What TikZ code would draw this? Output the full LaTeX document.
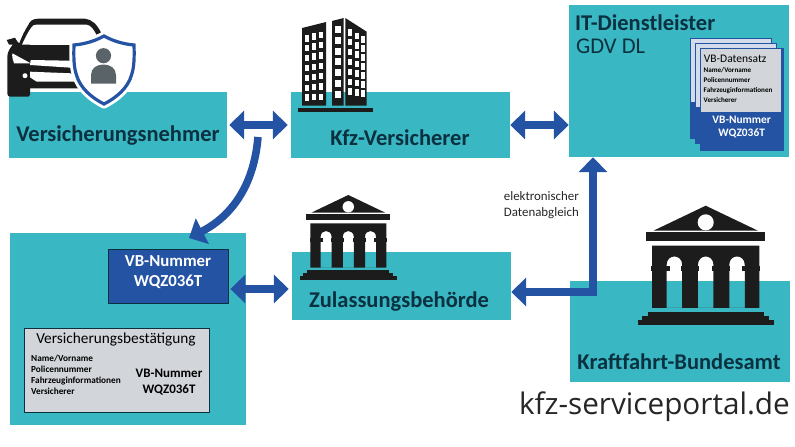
\documentclass[tikz,border=0pt]{standalone}
\usepackage{fontspec}
\setmainfont{Carlito}
\newfontfamily\urlfont{Open Sans}
\usetikzlibrary{arrows.meta, positioning}

\definecolor{tealfill}{HTML}{39B7C3}
\definecolor{linkblue}{HTML}{2553A4}
\definecolor{inkdark}{HTML}{0B3140}
\definecolor{sheetgrey}{HTML}{D2D5DA}
\definecolor{sheetback}{HTML}{D3DCEB}
\definecolor{icongrey}{HTML}{5A6468}
\definecolor{iconblack}{HTML}{1C1C1C}

\tikzset{
	tealbox/.style = {fill = tealfill, inner sep = 0, minimum width = #1},
	boxtitle/.style = {font = \fontsize{22.5}{26}\selectfont\bfseries, text = inkdark, inner sep = 0},
	vbbox/.style = {draw = inkdark, line width = 0.8, fill = linkblue, inner sep = 0},
	vbtext/.style 2 args = {align = center, inner sep = 0, font = \fontsize{#1}{#2}\selectfont\bfseries},
	smalllist/.style = {align = left, inner sep = 0, text = black},
	link/.style = {draw = linkblue, line width = 7.6, {Triangle[length = 15, width = 28]}-{Triangle[length = 15, width = 28]}},
	linkone/.style = {draw = linkblue, line width = 7.6, -{Triangle[length = 15, width = 28]}},
}

\newcommand{\behoerde}[3]{
	\begin{scope}[shift = {(#1,#2)}, scale = #3, fill = iconblack]
		\fill (0,0) -- (37,17.7) -- (-37,17.7) -- cycle;
		\fill (-42,19) rectangle (42,25);
		\fill[white] (0,11.8) circle (5.7);
		\fill[even odd rule] (-38,28.3) rectangle (38,72.5)
			\foreach \x in {-27.7,-5.5,16.7} {
				(\x,72.5) -- (\x,42) .. controls (\x,34) and (\x+11,34) .. (\x+11,42) -- (\x+11,72.5) -- cycle
			};
		\foreach \x in {-32,-11,11,32} {
			\fill (\x-6.5,42.7) rectangle (\x+6.5,46.5);
		}
		\fill (-41,75.2) rectangle (41,78.4);
		\fill (-45,78.4) rectangle (45,81.2);
		\fill (-48.3,81.2) rectangle (48.3,84.7);
	\end{scope}
}

\begin{document}
\begin{tikzpicture}[x = 1pt, y = -1pt]
	\useasboundingbox (0,0) rectangle (795,447);

	\node[tealbox = 218, minimum height = 66] (nehmer) at (118,125) {};
	\node[tealbox = 219, minimum height = 66] (versicherer) at (400.5,125) {};
	\node[tealbox = 220, minimum height = 152] (dienstleister) at (679,81) {};
	\node[tealbox = 236, minimum height = 192] (halter) at (128,329) {};
	\node[tealbox = 219, minimum height = 68] (zulassung) at (401.5,286) {};
	\node[tealbox = 220, minimum height = 101] (kba) at (680,331.5) {};

	\fill[iconblack]
		(6.7,40) -- (15,37.7) -- (17,41) -- (19.3,43.3)
		.. controls (22,36) and (25,30) .. (28.3,25)
		.. controls (30,20.5) and (33,19) .. (38,18.7) -- (85,18.7)
		.. controls (92,19.5) and (97,24) .. (101.7,34) -- (101.7,88.3) -- (30,88.3) -- (30,94)
		.. controls (30,96) and (29,96.7) .. (28,96.7) -- (10,96.7)
		.. controls (8,96.7) and (7.3,95) .. (7.3,93) -- (7.3,57)
		.. controls (7.3,52) and (10,48) .. (13,44.5) -- (9,44.5) -- cycle;
	\fill[white]
		(22,44.7) .. controls (25,38) and (28,32) .. (31,28)
		.. controls (32,25.5) and (34,24.7) .. (37,24.5) -- (86,24.5)
		.. controls (91,25) and (94,30) .. (97,36) -- (72,45) -- cycle;
	\fill[white] (12.3,53.3) -- (30.7,63.3) -- (14,63.3) .. controls (12.5,60) and (12,56) .. (12.3,53.3) -- cycle;
	\fill[white] (30.7,60) -- (70,60.7) -- (71,67.7) -- (30,65) -- cycle;
	\fill[white] (30,71.7) -- (71,73.3) -- (77,81.7) -- (36.7,81.7) -- (30,77.3) -- cycle;
	\fill[white] (25,75.7) circle (2.5);
	\def\wappen{
		(104,36) .. controls (95,41) and (85,44) .. (74,45)
		.. controls (73.5,58) and (74,68) .. (76.5,75)
		.. controls (80,88) and (92,98) .. (104,104)
		.. controls (116,98) and (128,88) .. (131.5,75)
		.. controls (134,68) and (134.5,58) .. (134,45)
		.. controls (123,44) and (113,41) .. (104,36) -- cycle
	}
	\draw[white, line width = 9, line join = round] \wappen;
	\draw[linkblue, fill = white, line width = 3.2] \wappen;
	\fill[icongrey] (103.5,55.7) circle (7.6);
	\fill[icongrey] (91,83.5) -- (91,75) .. controls (91,68) and (97,64.5) .. (103.5,64.5)
		.. controls (110,64.5) and (116,68) .. (116,75) -- (116,83.5) -- cycle;

	\fill[iconblack] (302,28) -- (326,22) -- (326,105.7) -- (302,105.7) -- cycle;
	\fill[iconblack] (332,21) -- (343.7,18) -- (343.7,105.7) -- (332,105.7) -- cycle;
	\fill[iconblack] (345.3,18) -- (366.7,31.7) -- (366.7,105.7) -- (345.3,105.7) -- cycle;
	\fill[iconblack] (298,108) rectangle (373,112);
	\foreach \i in {0,...,6} {
		\pgfmathsetmacro{\yy}{35 + 9.9*\i}
		\foreach \x in {304.5,311.5,318.5} {
			\pgfmathsetmacro{\dy}{-(\x-304.5)*0.25*(1-\i/8)}
			\fill[white] (\x,\yy+\dy) rectangle ++(4.8,6.5);
		}
		\foreach \x in {348,354.5,361} {
			\pgfmathsetmacro{\dy}{(\x-348)*0.55*(1-\i/8)}
			\fill[white] (\x,\yy+\dy-6) rectangle ++(4.3,6.5);
		}
	}
	\foreach \i in {0,...,6} {
		\fill[white] (335,26+10.8*\i) rectangle ++(5.5,7);
	}

	\behoerde{348.3}{195}{1}
	\behoerde{705.7}{205.7}{1.41}

	\node[boxtitle] (nehmertext) at (118,136) {Versicherungsnehmer};
	\node[boxtitle] (versicherertext) at (400,138) {Kfz-Versicherer};
	\node[boxtitle] (zulassungtext) at (399,302) {Zulassungsbehörde};
	\node[boxtitle] (kbatext) at (679,362) {Kraftfahrt-Bundesamt};
	\node[boxtitle, anchor = west] (dienstleistertext) at (575,23) {IT-Dienstleister};
	\node[boxtitle, anchor = west, font = \fontsize{22.5}{26}\selectfont] (gdv) at (576,46) {GDV DL};

	\begin{scope}[draw = linkblue, line width = 0.6]
		\fill[sheetback, draw = linkblue] (690,38.3) rectangle (771.3,138.3);
		\fill[linkblue] (690,102) rectangle (771.3,138.3);
		\fill[sheetback, draw = linkblue] (695,43.3) rectangle (776.7,143.3);
		\fill[linkblue] (695,107) rectangle (776.7,143.3);
		\fill[linkblue] (700,48.3) rectangle (784,150.5);
	\end{scope}
	\node[fill = sheetgrey, inner sep = 0, minimum width = 80.5, minimum height = 63, anchor = north west] (datensatz) at (700.3,49) {};
	\node[anchor = west, inner sep = 0, font = \fontsize{11.5}{14}\selectfont] (datensatztext) at (703.7,59) {VB-Datensatz};
	\node[smalllist, anchor = north west, font = \fontsize{7.1}{10.2}\selectfont\bfseries] (datensatzlist) at (703.5,67) {Name/Vorname\\Policennummer\\Fahrzeuginformationen\\Versicherer};
	\node[vbtext = {11.4}{13}, text = white] (datensatznr) at (741.7,127) {VB-Nummer\\WQZ036T};

	\node[vbbox, minimum width = 120, minimum height = 54] (vbnr) at (168,276) {};
	\node[vbtext = {16.8}{20}, text = white] (vbnrtext) at (168,272) {VB-Nummer\\WQZ036T};

	\node[draw = inkdark, line width = 0.8, fill = sheetgrey, minimum width = 185, minimum height = 84, inner sep = 0] (bestaetigung) at (116.5,370) {};
	\node[inner sep = 0, font = \fontsize{15.3}{18}\selectfont, text = black] (bestaetigungtext) at (116,339) {Versicherungsbestätigung};
	\node[smalllist, anchor = north west, font = \fontsize{9.25}{11}\selectfont\bfseries] (bestaetigunglist) at (31,354.5) {Name/Vorname\\Policennummer\\Fahrzeuginformationen\\Versicherer};
	\node[vbtext = {13}{16}, text = black] (bestaetigungnr) at (169,382) {VB-Nummer\\WQZ036T};

	\node[anchor = north west, align = left, inner sep = 0, text = black!85, font = \fontsize{12.9}{16}\selectfont] (abgleich) at (503.7,191) {elektronischer\\Datenabgleich};
	\node[anchor = east, inner sep = 0, text = black!85, font = \urlfont\fontsize{29.7}{36}\selectfont] (portal) at (790,407) {kfz-serviceportal.de};

	\coordinate (bogenstart) at (258,137);
	\coordinate (bogenziel) at (189,238);
	\coordinate (knick) at (593,292);

	\draw[link, shorten <= 2, shorten >= 3] (nehmer.east) -- (versicherer.west);
	\draw[link] (versicherer.east) -- (versicherer.east -| dienstleister.west);
	\draw[link, shorten <= 2, shorten >= 3] ([yshift = -13]vbnr.east) -- ([yshift = -13]vbnr.east -| zulassung.west);
	\draw[link, line join = miter] (zulassung.east |- knick) -- (knick) -- (dienstleister.south -| knick);
	\draw[linkone] (bogenstart) .. controls (254,185) and (232,216) .. (bogenziel);

\end{tikzpicture}
\end{document}
